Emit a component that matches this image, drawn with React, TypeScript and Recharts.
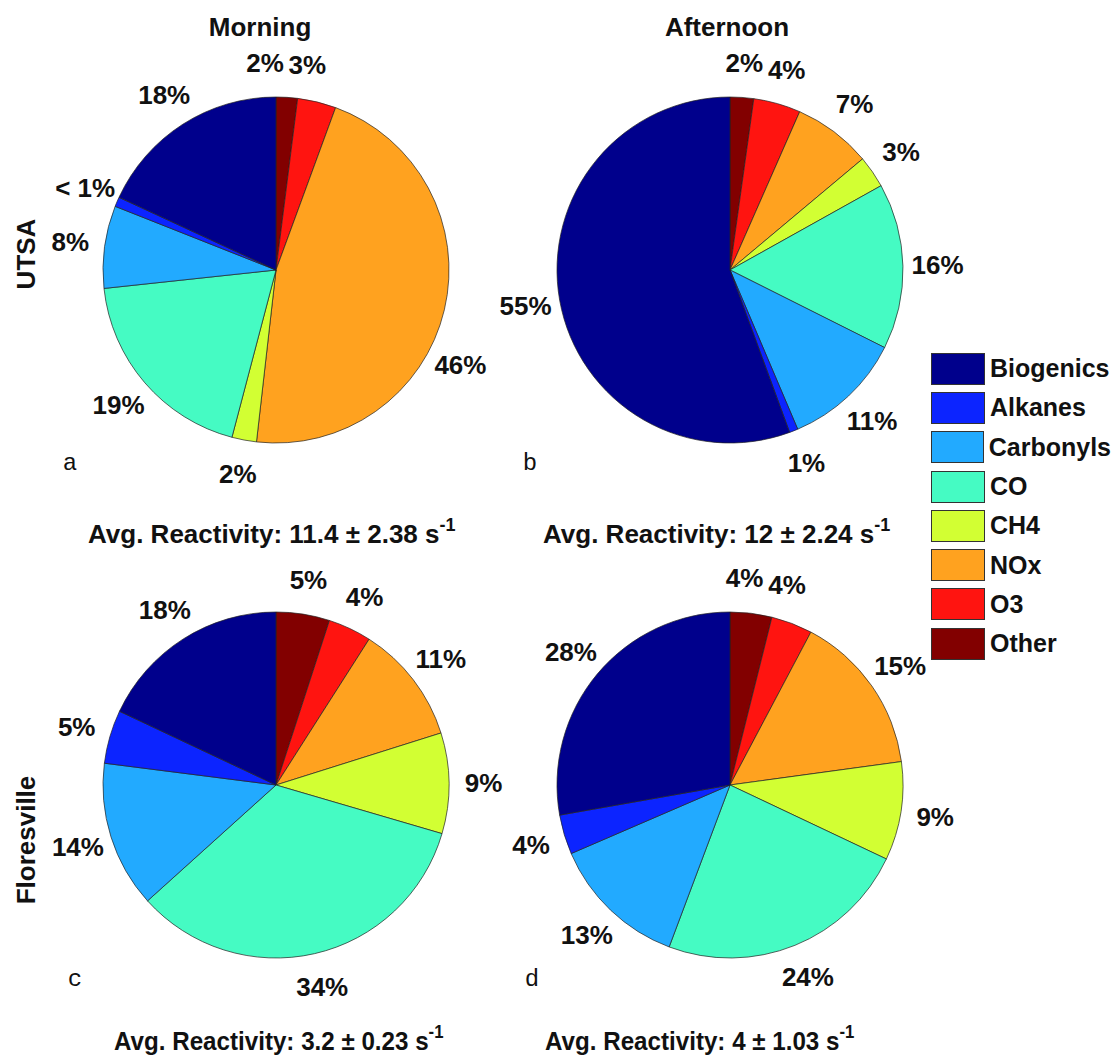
import React from "react";
import { PieChart, Pie, Cell, Legend } from "recharts";

// slice order, clockwise from 12 o'clock
const categories = ["Other", "O3", "NOx", "CH4", "CO", "Carbonyls", "Alkanes", "Biogenics"];
const colors = ["#820000", "#ff1410", "#ffa21f", "#d2ff33", "#45fbc3", "#22aaff", "#0c24ff", "#00008c"];
const legendOrder = ["Biogenics", "Alkanes", "Carbonyls", "CO", "CH4", "NOx", "O3", "Other"];

const utsaMorning = [2.0, 3.6, 46.2, 2.3, 19.2, 7.7, 0.9, 18.1];
const utsaAfternoon = [2.2, 4.4, 7.3, 3.0, 15.5, 11.2, 0.8, 55.6];
const floresMorning = [5.0, 4.05, 11.1, 9.4, 33.8, 13.7, 5.0, 18.0];
const floresAfternoon = [3.9, 3.85, 15.1, 9.2, 23.7, 12.8, 3.7, 27.8];

const utsaMorningLabels = ["2%", "3%", "46%", "2%", "19%", "8%", "< 1%", "18%"];
const utsaAfternoonLabels = ["2%", "4%", "7%", "3%", "16%", "11%", "1%", "55%"];
const floresMorningLabels = ["5%", "4%", "11%", "9%", "34%", "14%", "5%", "18%"];
const floresAfternoonLabels = ["4%", "4%", "15%", "9%", "24%", "13%", "4%", "28%"];

const columnTitles = ["Morning", "Afternoon"];
const siteNames = ["UTSA", "Floresville"];
const panelLetters = ["a", "b", "c", "d"];
const reactivity = ["11.4 \u00b1 2.38", "12 \u00b1 2.24", "3.2 \u00b1 0.23", "4 \u00b1 1.03"];

const W = 1115;
const H = 1057;
const R = 173;
const FONT = "'Liberation Sans', Arial, Helvetica, sans-serif";
const RAD = Math.PI / 180;

// hand-moved labels in the original figure (degrees, counter-clockwise)
const noShift = [0, 0, 0, 0, 0, 0, 0, 0];
const utsaMorningShift = [6.6, 5, -14, 0, 0, 0, 0, 0];
const floresAfternoonShift = [3, 5, 0, 0, 0, 0, 0, 0];

const panels = [
  { values: utsaMorning, labels: utsaMorningLabels, shift: utsaMorningShift, cx: 276, cy: 270, letter: [70, 470], avg: [88, 543], sx: 1 },
  { values: utsaAfternoon, labels: utsaAfternoonLabels, shift: noShift, cx: 730, cy: 270, letter: [530, 470], avg: [543, 543], sx: 1 },
  { values: floresMorning, labels: floresMorningLabels, shift: noShift, cx: 276, cy: 785, letter: [75, 986], avg: [114, 1050], sx: 0.93 },
  { values: floresAfternoon, labels: floresAfternoonLabels, shift: floresAfternoonShift, cx: 730, cy: 785, letter: [532, 986], avg: [545, 1050], sx: 0.93 },
];

const makeLabel = (labels: string[], shift: number[]) => (props: any) => {
  const { cx, cy, midAngle, outerRadius, index } = props;
  const r = outerRadius * 1.2;
  const a = midAngle + shift[index];
  const x = cx + r * Math.cos(-a * RAD);
  const y = cy + r * Math.sin(-a * RAD);
  return (
    <text
      key={`lbl-${index}`}
      x={x}
      y={y}
      textAnchor="middle"
      dominantBaseline="central"
      fill="#111"
      fontSize={26}
      fontWeight="bold"
      fontFamily={FONT}
    >
      {labels[index]}
    </text>
  );
};

const LegendBox = () => (
  <div style={{ fontFamily: FONT, fontWeight: "bold", fontSize: 25, color: "#111" }}>
    {legendOrder.map((name) => (
      <div key={name} style={{ display: "flex", alignItems: "center", height: 39.3 }}>
        <div
          style={{
            width: 52,
            height: 30,
            background: colors[categories.indexOf(name)],
            border: "1px solid #333",
            marginRight: 5,
          }}
        />
        <span>{name}</span>
      </div>
    ))}
  </div>
);

export default function App() {
  return (
    <div style={{ position: "absolute", left: 0, top: 0, width: W, height: H, background: "#fff" }}>
      <PieChart width={W} height={H} margin={{ top: 0, right: 0, bottom: 0, left: 0 }}>
        {panels.map((p, pi) => (
          <Pie
            key={pi}
            data={p.values.map((v, i) => ({ name: categories[i], value: v }))}
            dataKey="value"
            nameKey="name"
            cx={p.cx}
            cy={p.cy}
            outerRadius={R}
            startAngle={90}
            endAngle={-270}
            stroke="#222"
            strokeWidth={0.7}
            label={makeLabel(p.labels, p.shift)}
            labelLine={false}
            isAnimationActive={false}
          >
            {p.values.map((_, i) => (
              <Cell key={i} fill={colors[i]} />
            ))}
          </Pie>
        ))}
        <Legend
          content={() => <LegendBox />}
          wrapperStyle={{ position: "absolute", left: 931, top: 349, width: 180, bottom: "auto" }}
        />
      </PieChart>
      <svg
        width={W}
        height={H}
        style={{ position: "absolute", left: 0, top: 0, pointerEvents: "none" }}
        fontFamily={FONT}
      >
        <text x={260} y={36} textAnchor="middle" fontSize={26} fontWeight="bold" fill="#111">
          {columnTitles[0]}
        </text>
        <text x={727} y={36} textAnchor="middle" fontSize={26} fontWeight="bold" fill="#111">
          {columnTitles[1]}
        </text>
        <text
          transform="translate(35,254) rotate(-90)"
          textAnchor="middle"
          fontSize={26}
          fontWeight="bold"
          fill="#111"
        >
          {siteNames[0]}
        </text>
        <text
          transform="translate(35,840) rotate(-90)"
          textAnchor="middle"
          fontSize={26}
          fontWeight="bold"
          fill="#111"
        >
          {siteNames[1]}
        </text>
        {panels.map((p, i) => (
          <g key={i}>
            <text
              x={p.letter[0]}
              y={p.letter[1]}
              textAnchor="middle"
              fontSize={24}
              fontFamily="'Liberation Mono', 'Courier New', monospace"
              fill="#111"
            >
              {panelLetters[i]}
            </text>
            <g transform={`translate(${p.avg[0]},${p.avg[1]}) scale(${p.sx},1)`}>
              <text x={0} y={0} fontSize={26} fontWeight="bold" fill="#111">
                {`Avg. Reactivity: ${reactivity[i]} s`}
                <tspan dy={-12} fontSize={18}>
                  -1
                </tspan>
              </text>
            </g>
          </g>
        ))}
      </svg>
    </div>
  );
}
